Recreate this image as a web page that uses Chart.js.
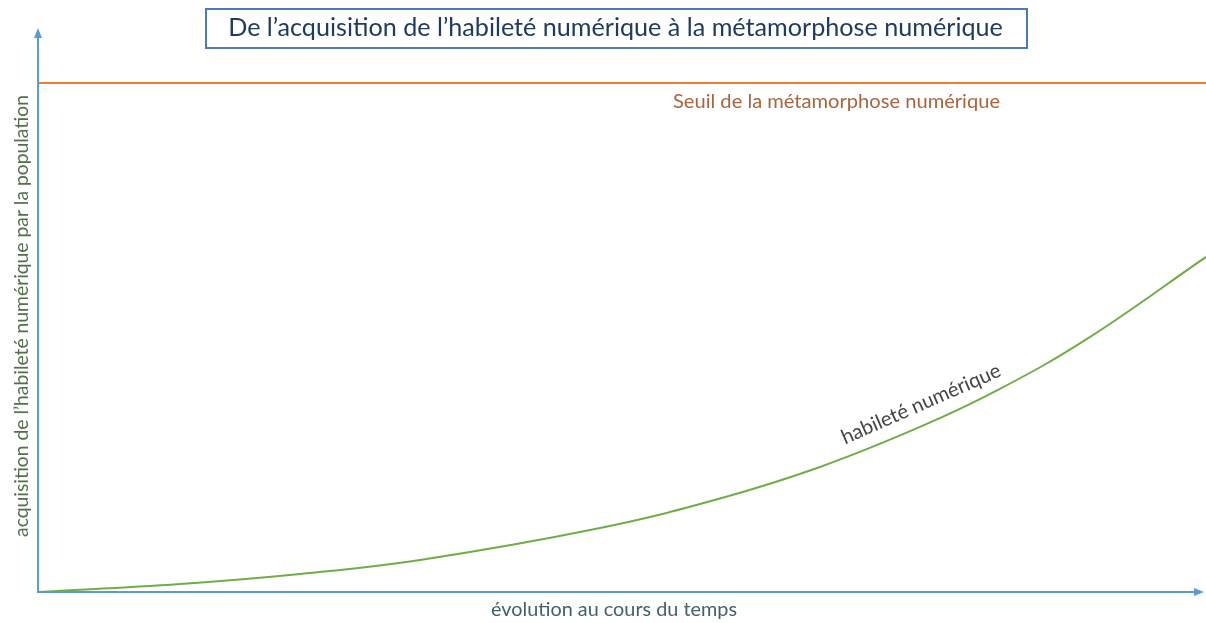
<!DOCTYPE html>
<html>
<head>
<meta charset="utf-8">
<script src="https://cdn.jsdelivr.net/npm/chart.js@4/dist/chart.umd.min.js"></script>
<style>
  html, body { margin: 0; padding: 0; background: #ffffff; }
  #wrap { position: relative; width: 1206px; height: 623px; }
</style>
</head>
<body>
<div id="wrap"><canvas id="c" width="1206" height="623"></canvas></div>
<script>
// ---- Data ----
const xValues = [0, 12.16, 22.43, 32.71, 48.12, 58.39, 66.95, 75.51, 82.36, 89.81, 100];
const yValues = [0, 1.57, 3.54, 6.29, 12.57, 18.37, 24.56, 32.42, 39.9, 49.71, 65.82];
const thresholdValue = 100;
const titleText = "De l\u2019acquisition de l\u2019habilet\u00e9 num\u00e9rique \u00e0 la m\u00e9tamorphose num\u00e9rique";
const thresholdLabel = "Seuil de la m\u00e9tamorphose num\u00e9rique";
const curveLabel = "habilet\u00e9 num\u00e9rique";
const xAxisLabel = "\u00e9volution au cours du temps";
const yAxisLabel = "acquisition de l\u2019habilet\u00e9 num\u00e9rique par la population";

const FONT = "Lato, 'Open Sans', sans-serif";

function setFitFont(ctx, text, targetW, base) {
  ctx.font = base + "px " + FONT;
  const w = ctx.measureText(text).width;
  const size = base * targetW / w;
  ctx.font = size.toFixed(2) + "px " + FONT;
}

const decor = {
  id: 'decor',
  afterDraw(chart) {
    const ctx = chart.ctx;
    const area = chart.chartArea;
    const xs = chart.scales.x, ys = chart.scales.y;
    const x0 = xs.getPixelForValue(0), y0 = ys.getPixelForValue(0);
    ctx.save();
    // axes
    ctx.strokeStyle = '#5b9bd5';
    ctx.fillStyle = '#5b9bd5';
    ctx.lineWidth = 2;
    ctx.beginPath();
    ctx.moveTo(x0, y0 + 1);
    ctx.lineTo(x0, area.top + 4);
    ctx.moveTo(x0 - 1, y0);
    ctx.lineTo(area.right - 6, y0);
    ctx.stroke();
    // arrow heads
    ctx.beginPath();
    ctx.moveTo(x0, area.top - 4);
    ctx.lineTo(x0 - 4, area.top + 6);
    ctx.lineTo(x0 + 4, area.top + 6);
    ctx.closePath();
    ctx.fill();
    ctx.beginPath();
    ctx.moveTo(area.right - 2, y0);
    ctx.lineTo(area.right - 12, y0 - 4);
    ctx.lineTo(area.right - 12, y0 + 4);
    ctx.closePath();
    ctx.fill();

    // title box
    ctx.strokeStyle = '#4a7ab8';
    ctx.lineWidth = 2;
    ctx.strokeRect(206, 9, 821, 39);
    ctx.fillStyle = '#1f3b63';
    ctx.textAlign = 'center';
    ctx.textBaseline = 'middle';
    setFitFont(ctx, titleText, 775, 22);
    ctx.fillText(titleText, 615.5, 28);

    // threshold label
    const yT = ys.getPixelForValue(thresholdValue);
    ctx.fillStyle = '#a9643c';
    setFitFont(ctx, thresholdLabel, 327, 18);
    ctx.fillText(thresholdLabel, 836.5, yT + 19);

    // x axis label
    ctx.fillStyle = '#44606a';
    setFitFont(ctx, xAxisLabel, 246, 18);
    ctx.fillText(xAxisLabel, 614, y0 + 18);

    // y axis label
    ctx.save();
    ctx.translate(22, 316);
    ctx.rotate(-Math.PI / 2);
    ctx.fillStyle = '#52704a';
    setFitFont(ctx, yAxisLabel, 442, 18);
    ctx.fillText(yAxisLabel, 0, 0);
    ctx.restore();

    // curve label
    ctx.save();
    ctx.translate(921, 404);
    ctx.rotate(-Math.atan2(70, 160));
    ctx.fillStyle = '#454545';
    setFitFont(ctx, curveLabel, 172, 18);
    ctx.fillText(curveLabel, 0, 0);
    ctx.restore();

    ctx.restore();
  }
};

new Chart(document.getElementById('c'), {
  type: 'scatter',
  data: {
    datasets: [
      {
        label: 'habilet\u00e9',
        data: xValues.map((x, i) => ({ x: x, y: yValues[i] })),
        showLine: true,
        borderColor: '#70ad47',
        borderWidth: 2,
        pointRadius: 0,
        tension: 0.4,
        fill: false,
        clip: false
      },
      {
        label: 'seuil',
        data: [{ x: 0, y: thresholdValue }, { x: 100, y: thresholdValue }],
        showLine: true,
        borderColor: '#ed7d31',
        borderWidth: 2,
        pointRadius: 0,
        fill: false,
        clip: false
      }
    ]
  },
  options: {
    responsive: false,
    animation: false,
    layout: { padding: { left: 38, right: 0, top: 32, bottom: 31 } },
    plugins: { legend: { display: false }, tooltip: { enabled: false }, title: { display: false } },
    scales: {
      x: { type: 'linear', min: 0, max: 100, display: false },
      y: { type: 'linear', min: 0, max: 110, display: false }
    }
  },
  plugins: [decor]
});
</script>
</body>
</html>
